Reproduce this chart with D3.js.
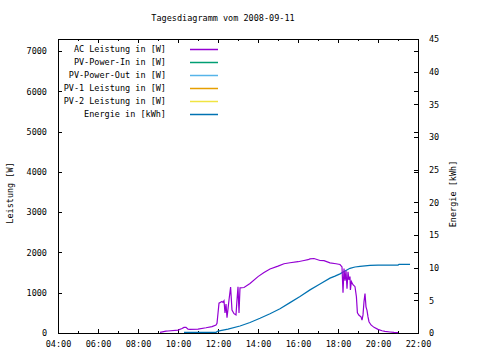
<!DOCTYPE html>
<html>
<head>
<meta charset="utf-8">
<script src="https://cdn.jsdelivr.net/npm/d3@7"></script>
<style>
  body { margin: 0; background: #fff; }
  text { font-family: "DejaVu Sans Mono", "Liberation Mono", monospace; font-size: 8.5px; fill: #000; }
</style>
</head>
<body>
<script>
// AC power (W) over the day, time in decimal hours
var acHours = [9.1, 9.4, 9.5, 10.0, 10.2, 10.3, 10.4, 10.5, 10.6, 11.0, 11.4, 11.7, 11.9, 11.95,
  12.0, 12.05, 12.2, 12.25, 12.3, 12.35, 12.4, 12.45, 12.5, 12.55, 12.63, 12.7, 12.8, 12.9, 12.95,
  13.0, 13.05, 13.1, 13.3, 13.6, 14.0, 14.3, 14.6, 15.0, 15.3, 15.6, 16.0, 16.3, 16.5, 16.6, 16.8,
  17.1, 17.3, 17.6, 17.9, 18.1, 18.2, 18.25, 18.3, 18.35, 18.4, 18.45, 18.5, 18.55, 18.6, 18.62,
  18.67, 18.75, 18.85, 18.92, 18.97, 19.05, 19.15, 19.2, 19.25, 19.3, 19.35, 19.4, 19.45, 19.5,
  19.55, 19.65, 19.8, 20.0, 20.2, 20.35, 20.6, 20.8, 21.0];
var acPower = [15, 45, 50, 70, 110, 140, 140, 95, 90, 95, 130, 160, 200, 240,
  490, 740, 780, 760, 800, 500, 720, 380, 600, 820, 1140, 570, 480, 450, 820,
  1150, 500, 1120, 1130, 1230, 1400, 1500, 1590, 1660, 1720, 1745, 1770, 1800, 1820, 1840, 1850,
  1800, 1795, 1740, 1720, 1700, 1640, 1000, 1600, 1300, 1550, 1100, 1520, 1320, 1400, 1070,
  1280, 1200, 1150, 900, 500, 440, 400, 320, 450, 780, 980, 650, 560, 400,
  280, 200, 140, 90, 55, 40, 25, 15, 10];

// cumulative energy (kWh)
var enHours = [10.3, 11.9, 12.0, 12.5, 13.1, 13.6, 14.1, 14.6, 15.1, 15.6, 16.1, 16.6, 17.1, 17.6,
  17.85, 18.1, 18.35, 18.6, 18.85, 19.1, 19.6, 20.0, 21.0, 21.05, 21.6];
var enKwh = [0.1, 0.1, 0.3, 0.6, 1.07, 1.6, 2.25, 2.95, 3.7, 4.65, 5.6, 6.6, 7.5, 8.4,
  8.7, 9.05, 9.5, 9.9, 10.1, 10.2, 10.35, 10.4, 10.4, 10.5, 10.5];

var legendNames = ["AC Leistung in [W]", "PV-Power-In in [W]", "PV-Power-Out in [W]",
  "PV-1 Leistung in [W]", "PV-2 Leistung in [W]", "Energie in [kWh]"];
var legendColors = ["#9400d3", "#009e73", "#56b4e9", "#e69f00", "#f0e442", "#0072b2"];

var hourTicks = [4, 6, 8, 10, 12, 14, 16, 18, 20, 22];
var hourMinor = [5, 7, 9, 11, 13, 15, 17, 19, 21];
var wattTicks = [0, 1000, 2000, 3000, 4000, 5000, 6000, 7000];
var kwhTicks = [0, 5, 10, 15, 20, 25, 30, 35, 40, 45];

// plot box (window.top is reserved, so use other names)
var plotL = 58, plotR = 418, plotT = 39, plotB = 333;

var svg = d3.select("body").append("svg").attr("width", 480).attr("height", 360);

var x = d3.scaleLinear().domain([4, 22]).range([plotL, plotR]);
var yW = d3.scaleLinear().domain([0, 7300]).range([plotB, plotT]);
var yE = d3.scaleLinear().domain([0, 45]).range([plotB, plotT]);

function hhmm(h) { return (h < 10 ? "0" : "") + h + ":00"; }

// bottom axis
svg.append("g").attr("transform", "translate(0," + plotB + ")")
  .call(d3.axisBottom(x).tickValues(hourTicks).tickFormat(hhmm).tickSizeInner(-4).tickSizeOuter(0).tickPadding(8));
svg.append("g").attr("transform", "translate(0," + plotB + ")")
  .call(d3.axisBottom(x).tickValues(hourMinor).tickFormat("").tickSizeInner(-2).tickSizeOuter(0));
// top mirror
svg.append("g").attr("transform", "translate(0," + plotT + ")")
  .call(d3.axisTop(x).tickValues(hourTicks).tickFormat("").tickSizeInner(-4).tickSizeOuter(0));
svg.append("g").attr("transform", "translate(0," + plotT + ")")
  .call(d3.axisTop(x).tickValues(hourMinor).tickFormat("").tickSizeInner(-2).tickSizeOuter(0));

// left axis and its mirror
svg.append("g").attr("transform", "translate(" + plotL + ",0)")
  .call(d3.axisLeft(yW).tickValues(wattTicks).tickFormat(d3.format("d")).tickSizeInner(-4).tickSizeOuter(0).tickPadding(11));
svg.append("g").attr("transform", "translate(" + plotR + ",0)")
  .call(d3.axisRight(yW).tickValues(wattTicks).tickFormat("").tickSizeInner(-4).tickSizeOuter(0));

// right energy axis
svg.append("g").attr("transform", "translate(" + plotR + ",0)")
  .call(d3.axisRight(yE).tickValues(kwhTicks).tickFormat(d3.format("d")).tickSizeInner(-4).tickSizeOuter(0).tickPadding(11));

svg.selectAll(".domain").remove();
svg.selectAll(".tick line").attr("stroke", "#000").attr("shape-rendering", "crispEdges");
svg.selectAll(".tick text").attr("fill", "#000").style("font-family", "DejaVu Sans Mono").style("font-size", "8.5px");

// frame
svg.append("rect").attr("x", plotL + 0.5).attr("y", plotT + 0.5).attr("width", plotR - plotL).attr("height", plotB - plotT)
  .attr("fill", "none").attr("stroke", "#000").attr("shape-rendering", "crispEdges");

// energy line
var enLine = d3.line().x(function (d, i) { return x(enHours[i]); }).y(function (d) { return yE(d); });
svg.append("path").datum(enKwh).attr("d", enLine)
  .attr("fill", "none").attr("stroke", legendColors[5]).attr("stroke-width", 1.2);

// AC power line
var acLine = d3.line().x(function (d, i) { return x(acHours[i]); }).y(function (d) { return yW(d); });
svg.append("path").datum(acPower).attr("d", acLine)
  .attr("fill", "none").attr("stroke", legendColors[0]).attr("stroke-width", 1.2);

// title
svg.append("text").attr("x", 223).attr("y", 21).attr("text-anchor", "middle").text("Tagesdiagramm vom 2008-09-11");

// axis labels
svg.append("text").attr("transform", "translate(13,193) rotate(-90)").attr("text-anchor", "middle").text("Leistung [W]");
svg.append("text").attr("transform", "translate(456,194) rotate(-90)").attr("text-anchor", "middle").text("Energie [kWh]");

// legend
var leg = svg.selectAll(".leg").data(legendNames).enter().append("g")
  .attr("transform", function (d, i) { return "translate(0," + (49 + i * 13) + ")"; });
leg.append("text").attr("x", 166).attr("y", 3).attr("text-anchor", "end").text(function (d) { return d; });
leg.append("line").attr("x1", 190).attr("x2", 218).attr("y1", 0.5).attr("y2", 0.5)
  .attr("stroke", function (d, i) { return legendColors[i]; }).attr("stroke-width", 1.5);
</script>
</body>
</html>
